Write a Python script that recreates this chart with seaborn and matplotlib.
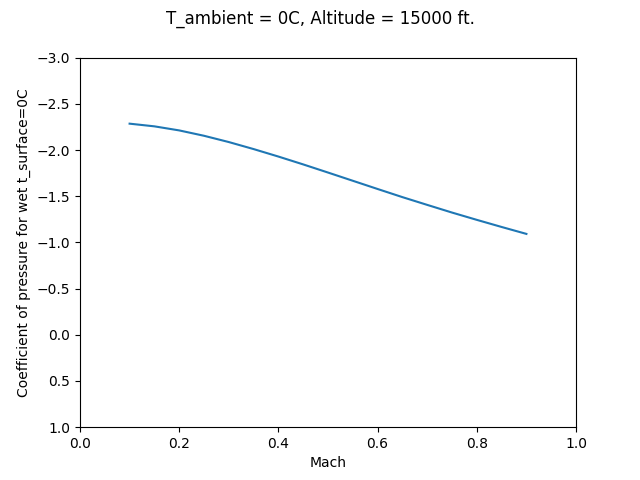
#!/usr/bin/env python3

import seaborn as sns
import matplotlib.pyplot as plt
import pandas

# Values
mach = [0.1, 0.15, 0.2, 0.25, 0.3, 0.35, 0.4, 0.45, 0.5,
        0.55, 0.6, 0.65, 0.7, 0.75, 0.8, 0.85, 0.9]
cp_wet = [-2.285, -2.256, -2.212, -2.154, -2.086, -2.010, -1.929, -1.844, -1.756,
          -1.667, -1.578, -1.490, -1.406, -1.323, -1.244, -1.167, -1.092]


def main():
    df = pandas.DataFrame({"Mach": mach, "cp": cp_wet})

    fig, ax = plt.subplots(figsize=(6.4, 4.8), dpi=100)
    sns.lineplot(data=df, x="Mach", y="cp", ax=ax, color="#1f77b4")

    fig.suptitle("T_ambient = 0C, Altitude = 15000 ft.")
    ax.set_xlabel("Mach")
    ax.set_ylabel("Coefficient of pressure for wet t_surface=0C")
    ax.set_xlim(0.0, 1.0)
    ax.set_ylim(1.0, -3.0)

    plt.savefig("out.png")
    plt.close()


if __name__ == "__main__":
    main()
